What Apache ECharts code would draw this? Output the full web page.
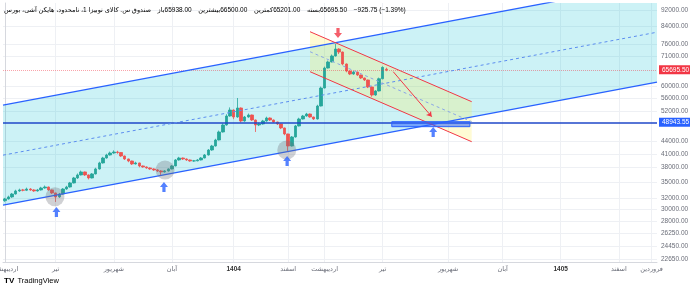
<!DOCTYPE html>
<html>
<head>
<meta charset="utf-8">
<script src="https://cdn.jsdelivr.net/npm/echarts@6/dist/echarts.min.js"></script>
<style>
  html, body { margin: 0; padding: 0; background: #fff; }
  #chart { width: 690px; height: 286px; }
</style>
</head>
<body>
<div id="chart"></div>
<script>
// daily Heikin Ashi bars, [open, close, low, high]
const candles = [
  [31500, 31810, 31300, 32000], [31810, 32170, 31700, 32400], [32170, 32710, 32000, 32900], [32710, 33270, 32600, 33500],
  [33270, 33460, 33100, 33700], [33460, 33400, 33200, 33650], [33400, 33640, 33250, 33900], [33640, 33460, 33300, 33800],
  [33460, 33270, 33100, 33600], [33270, 33460, 33150, 33650], [33460, 33830, 33350, 34050], [33830, 34020, 33700, 34300],
  [34020, 33460, 33300, 34100], [33460, 32900, 32700, 33550], [32900, 32170, 31280, 32950], [32170, 32710, 32000, 32900],
  [32710, 33640, 32600, 33800], [33640, 34020, 33500, 34250], [34020, 34800, 33900, 35000], [34800, 35790, 34700, 36000],
  [35790, 36400, 35600, 36700], [36400, 37020, 36300, 37300], [37020, 36400, 36200, 37100], [36400, 35790, 35500, 36500],
  [35790, 36610, 35700, 36800], [36610, 37650, 36500, 37900], [37650, 38940, 37500, 39200], [38940, 40040, 38800, 40300],
  [40040, 40720, 39900, 41000], [40720, 41180, 40600, 41500], [41180, 41410, 41000, 41800], [41410, 41300, 41000, 41700],
  [41300, 40490, 40300, 41400], [40490, 39820, 39600, 40600], [39820, 39370, 39100, 39900], [39370, 38720, 38500, 39450],
  [38720, 38940, 38600, 39200], [38940, 38290, 38000, 39000], [38290, 38070, 37900, 38400], [38070, 37860, 37700, 38200],
  [37860, 37650, 37450, 38000], [37650, 37440, 37250, 37800], [37440, 37230, 37000, 37600], [37230, 37020, 36400, 37400],
  [37020, 37230, 36900, 37400], [37230, 37650, 37100, 37800], [37650, 38290, 37550, 38500], [38290, 39600, 38200, 39800],
  [39600, 40040, 39450, 40300], [40040, 39820, 39600, 40150], [39820, 39600, 39400, 39950], [39600, 39370, 39200, 39700],
  [39370, 39400, 39200, 39600], [39400, 39600, 39300, 39800], [39600, 40040, 39500, 40250], [40040, 40720, 39950, 40950],
  [40720, 41880, 40600, 42100], [41880, 42830, 41700, 43100], [42830, 44300, 42700, 44600], [44300, 46340, 44200, 46700],
  [46340, 48200, 46200, 48600], [48200, 50690, 48000, 51200], [50690, 52430, 50500, 53200], [52430, 50410, 49800, 52600],
  [50410, 53030, 50200, 56090], [53030, 49290, 48900, 53200], [49290, 50410, 49100, 50700], [50410, 50980, 50200, 51400],
  [50980, 49570, 49300, 51100], [49570, 48200, 46340, 49700], [48200, 48470, 47900, 48800], [48470, 49290, 48300, 49600],
  [49290, 50130, 49100, 50500], [50130, 49570, 49300, 50300], [49570, 49020, 48800, 49700], [49020, 48470, 48200, 49100],
  [48470, 47400, 47100, 48550], [47400, 45830, 45500, 47500], [45830, 42830, 41650, 45900], [42830, 45060, 42700, 45300],
  [45060, 47930, 44900, 48200], [47930, 49850, 47800, 50200], [49850, 50690, 49700, 51000], [50690, 51270, 50500, 51600],
  [51270, 50410, 50200, 51400], [50410, 49850, 49600, 50500], [49850, 53620, 49700, 54000], [53620, 59330, 53500, 59800],
  [59330, 66380, 59200, 66900], [66380, 68670, 66200, 69200], [68670, 71020, 68500, 71600], [71020, 73860, 70800, 75970],
  [73860, 72630, 71800, 74200], [72630, 67900, 67400, 72800], [67900, 65270, 64800, 68100], [65270, 64180, 63800, 65400],
  [64180, 64910, 63900, 65300], [64910, 63830, 63500, 65000], [63830, 62760, 62400, 63950], [62760, 62060, 61700, 62900],
  [62060, 59660, 59300, 62200], [59660, 57040, 56500, 59800], [57040, 58340, 56800, 58600], [58340, 62500, 58200, 62900],
  [62500, 66620, 62300, 67000], [65938, 65695.5, 65201, 66500]
];

const priceTicks = [92000, 84000, 76000, 71000, 60000, 56000, 52000, 44000, 41000, 38000, 35000, 32000, 30000, 28000, 26250, 24450, 22650];
const monthIdx = [0, 14, 30, 46, 63, 78, 88, 104, 122, 137, 153, 169, 178];
const monthNames = ['اردیبهشت', 'تیر', 'شهریور', 'آبان', '1404', 'اسفند', 'اردیبهشت', 'تیر', 'شهریور', 'آبان', '1405', 'اسفند', 'فروردین'];

const lastPrice = 65695.5;
const levelPrice = 48943.55;
const symbolName = 'صندوق س. کالای نوبیزا 1، نامحدود، هایکن آشی، بورس';
const ohlcNames = ['باز', 'بیشترین', 'کمترین', 'بسته'];
const ohlcValues = ['65938.00', '66500.00', '65201.00', '65695.50'];
const changeText = '−925.75 (−1.39%)';

// drawings, as [bar index, price]
const upTop = [[-0.5, 53860], [179.5, 107480]];
const upBottom = [[-0.5, 30710], [179.5, 61300]];
const upMid = [[-0.5, 40680], [179.5, 81170]];
const downTop = [[84, 81400], [128.5, 54940]];
const downBottom = [[84, 65020], [128.5, 43880]];
const downMid = [[84, 72750], [128.5, 49100]];
const targetArrow = [[106.9, 65020], [117.5, 50500]];
const targetBox = [[106.5, 49100], [128, 47740]];
const touchCircles = [[13.8, 32210], [44.1, 37430], [77.6, 41880]];
const upArrows = [[14.2, 29560], [43.8, 34020], [77.7, 39370], [117.9, 46340]];
const downArrows = [[91.7, 80810]];

const BLUE = '#2962ff';
const RED = '#f23645';
const FONT = 'Liberation Sans, DejaVu Sans, sans-serif';

const chart = echarts.init(document.getElementById('chart'), null, { renderer: 'canvas' });

function polygon(points, fill, stroke, z) {
  return {
    type: 'custom', silent: true, clip: true, z: z,
    data: [[0, 40000]],
    renderItem: (params, api) => ({
      type: 'polygon',
      shape: { points: points.map(p => api.coord(p)) },
      style: { fill: fill, stroke: stroke || null, lineWidth: 1 }
    })
  };
}

function segment(points, color, width, type, z) {
  return {
    type: 'line', data: points, symbol: 'none', silent: true, z: z,
    lineStyle: { color: color, width: width, type: type || 'solid' }
  };
}

const header = '{n|' + symbolName + '}  ' +
  ohlcNames.map((n, i) => '{l|' + n + '}{v|' + ohlcValues[i] + '}').join('  ') +
  '  {v|' + changeText + '}';

const option = {
  animation: false,
  grid: { left: 3, right: 33, top: 3, bottom: 24, outerBoundsMode: 'none', containLabel: false },
  xAxis: {
    type: 'value', min: -0.5, max: 179.5,
    axisLine: { show: true, lineStyle: { color: '#d6d8de' } },
    axisTick: { show: false, customValues: monthIdx },
    axisLabel: {
      customValues: monthIdx, fontSize: 6.5, color: '#6a6d78', margin: 4, fontFamily: FONT,
      formatter: v => {
        const t = monthNames[monthIdx.indexOf(Math.round(v))] || '';
        return /^\d+$/.test(t) ? '{y|' + t + '}' : t;
      },
      rich: { y: { fontSize: 6.5, fontWeight: 'bold', color: '#333' } }
    },
    splitLine: { show: true, lineStyle: { color: '#eef0f4' } }
  },
  yAxis: {
    type: 'log', logBase: 10, position: 'right', min: 22320, max: 95650,
    axisLine: { show: true, lineStyle: { color: '#d6d8de' } },
    axisTick: { show: false, customValues: priceTicks },
    axisLabel: {
      customValues: priceTicks, fontSize: 6.5, color: '#6a6d78', margin: 4, fontFamily: FONT,
      formatter: v => Number(v).toFixed(2)
    },
    splitLine: { show: true, lineStyle: { color: '#eef0f4' } }
  },
  graphic: [
    {
      type: 'text', left: 4, top: 4, z: 100,
      style: {
        text: header, fontFamily: FONT,
        rich: {
          n: { fontSize: 6.5, color: '#444', fontFamily: FONT },
          l: { fontSize: 6.5, color: '#555', fontFamily: FONT },
          v: { fontSize: 6.5, color: RED, fontFamily: FONT }
        }
      }
    },
    {
      type: 'text', left: 4, top: 275, z: 100,
      style: {
        text: '{l|TV} {t|TradingView}',
        rich: {
          l: { fontSize: 8, fontWeight: 'bold', color: '#131722', fontFamily: FONT },
          t: { fontSize: 7.5, color: '#131722', fontFamily: FONT }
        }
      }
    }
  ],
  series: [
    polygon([upTop[0], upTop[1], upBottom[1], upBottom[0]], 'rgba(0,188,212,0.2)', null, 1),
    polygon([downTop[0], downTop[1], downBottom[1], downBottom[0]], 'rgba(255,235,59,0.22)', null, 2),
    {
      type: 'candlestick', z: 3,
      data: candles.map((c, i) => [i].concat(c)),
      encode: { x: 0, y: [1, 2, 3, 4] },
      barWidth: 3,
      itemStyle: { color: '#26a69a', color0: '#ef5350', borderColor: '#26a69a', borderColor0: '#ef5350', borderWidth: 0.8 },
      markLine: {
        silent: true, symbol: 'none', animation: false,
        data: [
          {
            yAxis: lastPrice,
            lineStyle: { color: 'rgba(242,54,69,0.45)', width: 1, type: 'dotted' },
            label: { position: 'end', distance: 2, formatter: '65695.50', color: '#fff', backgroundColor: RED, padding: [1, 3], fontSize: 6.5, fontFamily: FONT }
          },
          {
            yAxis: levelPrice,
            lineStyle: { color: '#1f47c9', width: 1.6, type: 'solid' },
            label: { position: 'end', distance: 2, formatter: '48943.55', color: '#fff', backgroundColor: BLUE, padding: [1, 3], fontSize: 6.5, fontFamily: FONT }
          }
        ]
      }
    },
    segment(upTop, BLUE, 1.3, 'solid', 5),
    segment(upBottom, BLUE, 1.3, 'solid', 5),
    segment(upMid, '#5b8def', 1, [3, 3], 5),
    segment(downTop, RED, 1, 'solid', 6),
    segment(downBottom, RED, 1, 'solid', 6),
    segment(downMid, '#8aa6e6', 1, [3, 3], 6),
    polygon([targetBox[0], [targetBox[1][0], targetBox[0][1]], targetBox[1], [targetBox[0][0], targetBox[1][1]]], 'rgba(41,98,255,0.55)', BLUE, 7),
    {
      type: 'lines', coordinateSystem: 'cartesian2d', silent: true, z: 8,
      symbol: ['none', 'arrow'], symbolSize: 5,
      lineStyle: { color: RED, width: 1, opacity: 1 },
      data: [{ coords: targetArrow }]
    },
    {
      type: 'scatter', silent: true, z: 9, data: touchCircles, symbolSize: 19,
      itemStyle: { color: 'rgba(110,112,120,0.4)' }
    },
    {
      type: 'scatter', silent: true, z: 10, data: upArrows, symbolSize: [8, 10],
      symbol: 'path://M5,0 L10,5 L7,5 L7,10 L3,10 L3,5 L0,5 Z',
      itemStyle: { color: BLUE }
    },
    {
      type: 'scatter', silent: true, z: 10, data: downArrows, symbolSize: [8, 10],
      symbol: 'path://M3,0 L7,0 L7,5 L10,5 L5,10 L0,5 L3,5 Z',
      itemStyle: { color: RED }
    }
  ]
};

chart.setOption(option);
window.addEventListener('resize', () => chart.resize());
</script>
</body>
</html>
